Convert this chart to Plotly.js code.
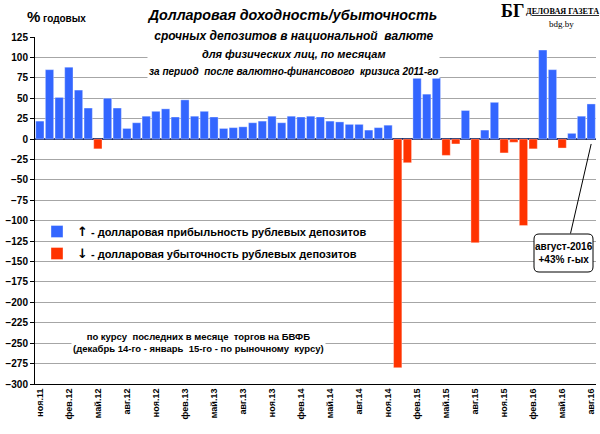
<!DOCTYPE html>
<html>
<head>
<meta charset="utf-8">
<script src="https://cdn.plot.ly/plotly-3.0.1.min.js"></script>
<style>
  html, body { margin: 0; padding: 0; background: #fff; }
  #chart { width: 600px; height: 434px; outline: 1px solid #8c8c8c; outline-offset: -1px; }
</style>
</head>
<body>
<div id="chart"></div>
<script>
// Monthly dollar yield of rouble deposits, % p.a. (Nov 2011 .. Aug 2016)
const months = [
  "ноя.11", "дек.11",
  "янв.12", "фев.12", "мар.12", "апр.12", "май.12", "июн.12", "июл.12", "авг.12", "сен.12", "окт.12", "ноя.12", "дек.12",
  "янв.13", "фев.13", "мар.13", "апр.13", "май.13", "июн.13", "июл.13", "авг.13", "сен.13", "окт.13", "ноя.13", "дек.13",
  "янв.14", "фев.14", "мар.14", "апр.14", "май.14", "июн.14", "июл.14", "авг.14", "сен.14", "окт.14", "ноя.14", "дек.14",
  "янв.15", "фев.15", "мар.15", "апр.15", "май.15", "июн.15", "июл.15", "авг.15", "сен.15", "окт.15", "ноя.15", "дек.15",
  "янв.16", "фев.16", "мар.16", "апр.16", "май.16", "июн.16", "июл.16", "авг.16"
];
const yieldPct = [
  22, 85,
  51, 88, 60, 38, -12, 50, 38, 13, 20, 28, 34, 37,
  27, 48, 28, 34, 27, 13, 14, 15, 20, 22, 28, 20,
  28, 27, 28, 27, 22, 21, 18, 18, 11, 14, 17, -280,
  -29, 82, 55, 75, -20, -6, 35, -127, 11, 45, -17, -4,
  -106, -12, 109, 85, -11, 7, 28, 43
];
// every third month is labelled on the axis
const tickMonths = [
  "ноя.11", "фев.12", "май.12", "авг.12", "ноя.12", "фев.13", "май.13", "авг.13", "ноя.13", "фев.14",
  "май.14", "авг.14", "ноя.14", "фев.15", "май.15", "авг.15", "ноя.15", "фев.16", "май.16", "авг.16"
];

const BLUE = "#3366ff";
const RED  = "#ff3300";
const FONT = "Liberation Sans, Arial, sans-serif";
const ARROW = s => `<span style="font-family:'DejaVu Sans';font-size:13px">${s}</span>`;

// plot area in pixels: x 35..596, y 37..384
const L = 35, R = 4, T = 37, B = 50, W = 600, H = 434;
const pw = W - L - R, ph = H - T - B;
const px = x => (x - L) / pw;
const py = y => (H - B - y) / ph;

const gains  = yieldPct.map(v => (v >= 0 ? v : null));
const losses = yieldPct.map(v => (v < 0 ? v : null));

const barLine = { width: 0.6, color: "rgba(255,255,255,0.6)" };

const data = [
  {
    type: "bar", x: months, y: gains,
    name: ARROW("↑") + " - долларовая прибыльность рублевых депозитов",
    legendgroup: "g", marker: { color: BLUE, line: barLine },
    hovertemplate: "%{x}: %{y}%<extra></extra>"
  },
  {
    type: "bar", x: months, y: losses,
    name: ARROW("↓") + " - долларовая убыточность рублевых депозитов",
    legendgroup: "l", marker: { color: RED, line: barLine },
    hovertemplate: "%{x}: %{y}%<extra></extra>"
  }
];

// rounded frame for the August-2016 callout
function roundRect(x0, y0, x1, y1, r) {
  const a = px(x0), b = px(x1), c = py(y0), d = py(y1);
  const rx = r / pw, ry = r / ph;
  return `M${a + rx},${c} L${b - rx},${c} Q${b},${c} ${b},${c - ry} ` +
         `L${b},${d + ry} Q${b},${d} ${b - rx},${d} L${a + rx},${d} ` +
         `Q${a},${d} ${a},${d + ry} L${a},${c - ry} Q${a},${c} ${a + rx},${c} Z`;
}

const layout = {
  width: W, height: H,
  margin: { l: L, r: R, t: T, b: B, pad: 0 },
  paper_bgcolor: "#fff", plot_bgcolor: "#fff",
  font: { family: FONT, color: "#000" },
  barmode: "relative",
  bargap: 0.14,
  showlegend: true,
  title: {
    text: "Долларовая доходность/убыточность",
    x: 293 / W, xanchor: "center", y: 1 - 15 / H, yanchor: "middle",
    font: { family: FONT, size: 14.3, weight: "bold", style: "italic", color: "#000" }
  },
  legend: {
    x: px(37), y: py(217), xanchor: "left", yanchor: "top",
    bgcolor: "rgba(0,0,0,0)", traceorder: "grouped", tracegroupgap: 3,
    font: { family: FONT, size: 11, weight: "bold", color: "#000" }
  },
  xaxis: {
    type: "category", range: [-0.5, months.length - 0.5],
    tickmode: "array", tickvals: tickMonths, ticktext: tickMonths,
    tickangle: -90, tickfont: { family: FONT, size: 9, weight: "bold", color: "#000" },
    showgrid: false, showline: true, linecolor: "#000", linewidth: 1,
    ticks: "", fixedrange: true
  },
  yaxis: {
    range: [-300, 125], tick0: 0, dtick: 25,
    tickfont: { family: FONT, size: 10, weight: "bold", color: "#000" },
    showgrid: true, gridcolor: "#a6a6a6", gridwidth: 1,
    zeroline: true, zerolinecolor: "#1c2b66", zerolinewidth: 1.5,
    showline: true, linecolor: "#000", linewidth: 1,
    ticks: "outside", ticklen: 4, tickcolor: "#000", fixedrange: true
  },
  shapes: [
    {
      type: "path", xref: "paper", yref: "paper",
      path: roundRect(534, 234, 593, 272, 5),
      line: { color: "#000", width: 1 }, fillcolor: "#fff", layer: "above"
    }
  ],
  annotations: [
    {
      xref: "paper", yref: "paper", x: px(293), y: py(53), xanchor: "center", yanchor: "middle",
      text: "<span style=\"font-size:12px\">срочных депозитов в национальной  валюте</span><br>" +
            "<span style=\"font-size:11px\">для физических лиц, по месяцам</span><br>" +
            "<span style=\"font-size:10px\">за период  после валютно-финансового  кризиса 2011-го</span>",
      showarrow: false, bgcolor: "#fff", borderpad: 1,
      font: { family: FONT, size: 13.5, weight: "bold", style: "italic", color: "#000" }
    },
    {
      xref: "paper", yref: "paper", x: px(25), y: py(16), xanchor: "left", yanchor: "middle",
      text: "%<span style=\"font-size:10px\"> годовых</span>",
      showarrow: false,
      font: { family: FONT, size: 15, weight: "bold", color: "#000" }
    },
    {
      xref: "paper", yref: "paper", x: px(512), y: py(11), xanchor: "center", yanchor: "middle",
      text: "БГ", showarrow: false,
      font: { family: "Liberation Serif, serif", size: 18, weight: "bold", color: "#000" }
    },
    {
      xref: "paper", yref: "paper", x: px(524), y: py(11), xanchor: "left", yanchor: "middle",
      text: "<u>ДЕЛОВАЯ ГАЗЕТА</u>", showarrow: false,
      font: { family: "Liberation Serif, serif", size: 8.2, weight: "bold", color: "#000" }
    },
    {
      xref: "paper", yref: "paper", x: px(561), y: py(24), xanchor: "center", yanchor: "middle",
      text: "bdg.by", showarrow: false,
      font: { family: "Liberation Serif, serif", size: 9, color: "#000" }
    },
    {
      xref: "paper", yref: "paper", x: px(198), y: py(342), xanchor: "center", yanchor: "middle",
      text: "по курсу  последних в месяце  торгов на БВФБ<br>(декабрь 14-го - январь  15-го - по рыночному  курсу)",
      showarrow: false, bgcolor: "#fff", borderpad: 1,
      font: { family: FONT, size: 9.5, weight: "bold", color: "#000" }
    },
    {
      x: months[months.length - 1], y: -6, xref: "x", yref: "y",
      ax: 570 - 591, ay: 236 - 145, axref: "pixel", ayref: "pixel",
      showarrow: true, arrowhead: 0, arrowwidth: 1, arrowcolor: "#000",
      text: "", standoff: 0
    },
    {
      xref: "paper", yref: "paper", x: px(563.5), y: py(253), xanchor: "center", yanchor: "middle",
      text: "август-2016<br>+43% г-ых", showarrow: false,
      font: { family: FONT, size: 10, weight: "bold", color: "#000" }
    }
  ]
};

Plotly.newPlot("chart", data, layout, { displayModeBar: false, staticPlot: true });
</script>
</body>
</html>
